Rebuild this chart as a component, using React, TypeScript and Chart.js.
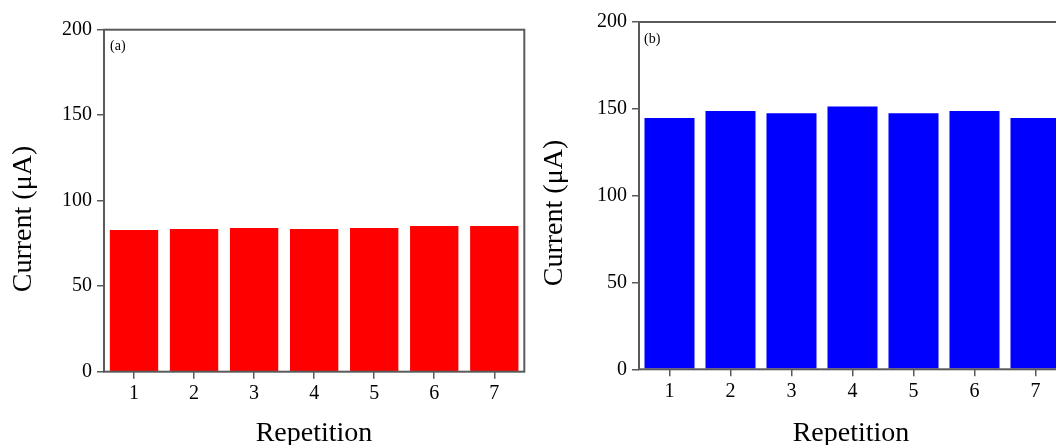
import React, { useEffect, useRef } from "react";
import { Chart, registerables } from "chart.js";

Chart.register(...registerables);

const repetitions = ["1", "2", "3", "4", "5", "6", "7"];
const currentA = [82.9, 83.4, 84.0, 83.4, 84.0, 85.2, 85.2];
const currentB = [144.7, 148.7, 147.4, 151.4, 147.4, 148.7, 144.7];
const yMin = 0;
const yMax = 200;
const yStep = 50;
const yTitle = "Current (\u03bcA)";
const xTitle = "Repetition";

const FONT = "'Liberation Serif', 'Times New Roman', serif";
const AXIS = "#5a5a5a";

type PanelCfg = {
  values: number[];
  color: string;
  tag: string;
  yAxisWidth: number;
  xAxisHeight: number;
  padTop: number;
  padRight: number;
  yTitlePos: [number, number];
  xTitlePos: [number, number];
  tagPos: [number, number];
  barPct: number;
};

function Panel({ cfg, left, width }: { cfg: PanelCfg; left: number; width: number }) {
  const ref = useRef<HTMLCanvasElement>(null);
  useEffect(() => {
    if (!ref.current) return;
    const frame = {
      id: "frameAndText",
      afterDraw(chart: any) {
        const { ctx, chartArea } = chart;
        ctx.save();
        ctx.strokeStyle = AXIS;
        ctx.lineWidth = 2;
        ctx.strokeRect(chartArea.left, chartArea.top, chartArea.right - chartArea.left, chartArea.bottom - chartArea.top);
        ctx.fillStyle = "#000";
        ctx.font = `28px ${FONT}`;
        ctx.textAlign = "center";
        ctx.textBaseline = "alphabetic";
        ctx.fillText(xTitle, cfg.xTitlePos[0], cfg.xTitlePos[1]);
        ctx.save();
        ctx.translate(cfg.yTitlePos[0], cfg.yTitlePos[1]);
        ctx.rotate(-Math.PI / 2);
        ctx.fillText(yTitle, 0, 0);
        ctx.restore();
        ctx.font = `14px ${FONT}`;
        ctx.textAlign = "left";
        ctx.fillText(cfg.tag, cfg.tagPos[0], cfg.tagPos[1]);
        ctx.restore();
      },
    };
    const chart = new Chart(ref.current, {
      type: "bar",
      data: {
        labels: repetitions,
        datasets: [
          {
            data: cfg.values,
            backgroundColor: cfg.color,
            borderWidth: 0,
            barPercentage: 1,
            categoryPercentage: cfg.barPct,
          },
        ],
      },
      options: {
        animation: false,
        responsive: false,
        maintainAspectRatio: false,
        layout: { padding: { left: 0, top: cfg.padTop, right: cfg.padRight, bottom: 0 } },
        plugins: { legend: { display: false }, tooltip: { enabled: false }, title: { display: false } },
        scales: {
          x: {
            offset: true,
            grid: { drawOnChartArea: false, tickLength: 7, color: AXIS, lineWidth: 1.5, offset: false },
            border: { display: false },
            ticks: { color: "#000", font: { family: FONT, size: 20 }, padding: 3, maxRotation: 0 },
            afterFit: (s: any) => {
              s.height = cfg.xAxisHeight;
            },
          },
          y: {
            min: yMin,
            max: yMax,
            ticks: { stepSize: yStep, color: "#000", font: { family: FONT, size: 20 }, padding: 5 },
            grid: { drawOnChartArea: false, tickLength: 7, color: AXIS, lineWidth: 1.5 },
            border: { display: false },
            afterFit: (s: any) => {
              s.width = cfg.yAxisWidth;
            },
          },
        },
      },
      plugins: [frame],
    });
    return () => chart.destroy();
  }, []);
  return (
    <canvas
      ref={ref}
      width={width}
      height={445}
      style={{ position: "absolute", left, top: 0, width, height: 445 }}
    />
  );
}

const panelA: PanelCfg = {
  values: currentA,
  color: "#ff0000",
  tag: "(a)",
  yAxisWidth: 104,
  xAxisHeight: 73.3,
  padTop: 29.7,
  padRight: 15.7,
  yTitlePos: [30.5, 219],
  xTitlePos: [314, 440.5],
  tagPos: [110, 50],
  barPct: 0.805,
};

const panelB: PanelCfg = {
  values: currentB,
  color: "#0000ff",
  tag: "(b)",
  yAxisWidth: 99,
  xAxisHeight: 75.7,
  padTop: 22,
  padRight: 14,
  yTitlePos: [21.5, 213],
  xTitlePos: [311, 440.5],
  tagPos: [104, 43],
  barPct: 0.82,
};

export default function App() {
  return (
    <div
      style={{
        position: "fixed",
        left: 0,
        top: 0,
        width: 1056,
        height: 445,
        overflow: "hidden",
        background: "#fff",
      }}
    >
      <Panel cfg={panelA} left={0} width={540} />
      <Panel cfg={panelB} left={540} width={540} />
    </div>
  );
}
